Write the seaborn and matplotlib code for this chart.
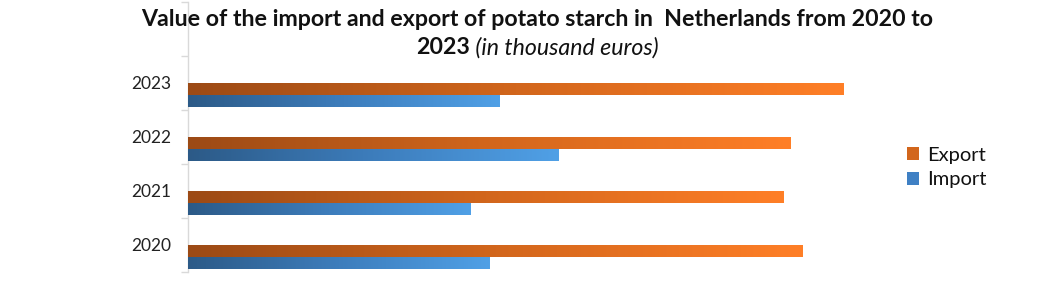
import numpy as np
import pandas as pd
import matplotlib
matplotlib.use("Agg")
import matplotlib.pyplot as plt
import seaborn as sns
from matplotlib.colors import LinearSegmentedColormap
from matplotlib.patches import Patch

# ---- data (thousand euros) ----
years = ["2023", "2022", "2021", "2020"]
export_values = [328000, 301500, 298000, 307500]
import_values = [156000, 185500, 141500, 151000]
series = ["Export", "Import"]
title_line1 = "Value of the import and export of potato starch in  Netherlands from 2020 to"
title_bold2 = "2023"
title_italic2 = " (in thousand euros)"

df = pd.DataFrame({
    "Year": years * 2,
    "Value": export_values + import_values,
    "Flow": [series[0]] * len(years) + [series[1]] * len(years),
})

sns.set_theme(style="white")
plt.rcParams["font.family"] = ["Lato", "DejaVu Sans"]

W, H = 1038, 288
fig = plt.figure(figsize=(W / 100, H / 100), dpi=100)
# axis extends up behind the title (one empty category slot on top)
ax = fig.add_axes([188 / W, 1 - 272 / H, (880 - 188) / W, (272 - 2) / H])

orange_mid, blue_mid = "#D2661C", "#3F80C4"
sns.barplot(data=df, y="Year", x="Value", hue="Flow", order=years,
            hue_order=series, orient="h", width=0.44, dodge=True,
            palette=[orange_mid, blue_mid], saturation=1, legend=False,
            errorbar=None, ax=ax)

cmap_orange = LinearSegmentedColormap.from_list("o", ["#9C4A15", "#D2661C", "#FF7F27"])
cmap_blue = LinearSegmentedColormap.from_list("b", ["#2C5A87", "#3D7DBC", "#50A0E6"])
grad = np.linspace(0, 1, 256).reshape(1, -1)

xmax = 346000
for p in list(ax.patches):
    p.set_y(p.get_y() + 0.22)
    fc = p.get_facecolor()
    cmap = cmap_orange if fc[0] > fc[2] else cmap_blue
    x0, w, y0, h = p.get_x(), p.get_width(), p.get_y(), p.get_height()
    ax.imshow(grad, cmap=cmap, extent=[x0, x0 + w, y0 + h, y0],
              aspect="auto", interpolation="bilinear", zorder=3)
    p.set_facecolor("none")
    p.set_edgecolor("none")

ax.set_xlim(0, xmax)
ax.set_ylim(len(years) - 0.5, -1.5)
ax.set_aspect("auto")
ax.set_xlabel("")
ax.set_ylabel("")
ax.set_xticks([])
for s in ["top", "right", "bottom"]:
    ax.spines[s].set_visible(False)
ax.spines["left"].set_color("#D9D9D9")
ax.spines["left"].set_linewidth(1)
ax.set_yticks(range(len(years)))
ax.set_yticklabels(years)
ax.set_yticks([i + 0.5 for i in range(-2, len(years))], minor=True)
ax.tick_params(axis="y", which="major", length=0, pad=12, labelsize=12.5,
               labelcolor="#222222")
ax.tick_params(axis="y", which="minor", length=5, width=1, color="#D9D9D9", left=True)
ax.patch.set_alpha(0)

# legend
handles = [Patch(facecolor=orange_mid, edgecolor="none"),
           Patch(facecolor=blue_mid, edgecolor="none")]
fig.legend(handles, series, loc="center left",
           bbox_to_anchor=(907 / W, 1 - 167.5 / H), frameon=False,
           fontsize=14.5, handlelength=0.6, handleheight=0.6,
           handletextpad=0.38, labelspacing=0.38, borderpad=0, borderaxespad=0,
           labelcolor="#111111")

# title
cx = 537.5 / W
t1 = fig.text(cx, 1 - 20 / H, title_line1, ha="center", va="center",
              fontsize=14, fontweight="bold", color="#111111", zorder=5)
fig.canvas.draw()
r = fig.canvas.get_renderer()
w1 = t1.get_window_extent(r).width
fs = 14 * 800 / w1
t1.set_fontsize(fs)

tb = fig.text(0, 1 - 48 / H, title_bold2, ha="left", va="center",
              fontsize=fs, fontweight="bold", color="#111111", zorder=5)
ti = fig.text(0, 1 - 48 / H, title_italic2, ha="left", va="center",
              fontsize=fs, fontstyle="italic", color="#111111", zorder=5)
fig.canvas.draw()
wb = tb.get_window_extent(r).width
wi = ti.get_window_extent(r).width
left = 537.5 - (wb + wi) / 2
tb.set_x(left / W)
ti.set_x((left + wb) / W)

fig.savefig("out.png", dpi=100, facecolor="white")
